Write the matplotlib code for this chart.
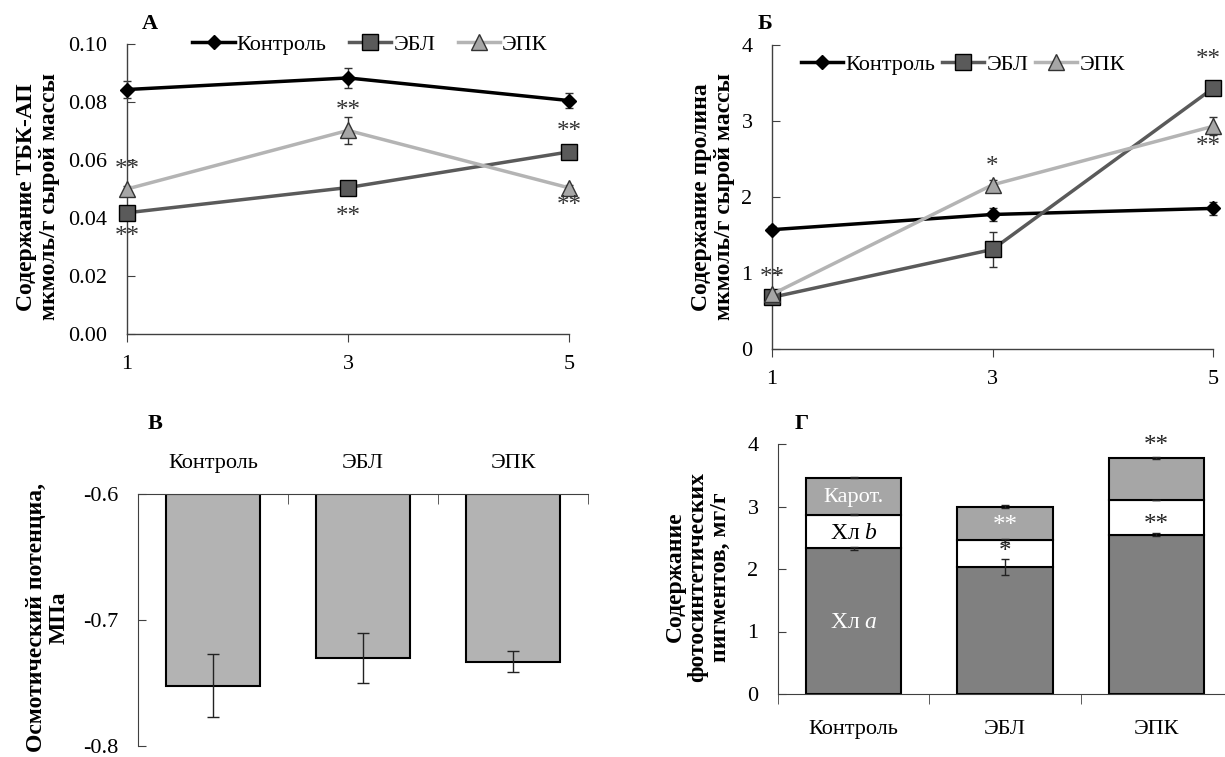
import matplotlib
matplotlib.use("Agg")
import matplotlib.pyplot as plt
import numpy as np

plt.rcParams['font.family'] = ['Liberation Serif', 'DejaVu Serif']
plt.rcParams['mathtext.fontset'] = 'custom'
plt.rcParams['mathtext.it'] = 'Liberation Serif:italic'
plt.rcParams['mathtext.rm'] = 'Liberation Serif'

# ---------------- data ----------------
days = [1, 3, 5]
series = ['Контроль', 'ЭБЛ', 'ЭПК']

tbk_control = [0.0843, 0.0883, 0.0805]
tbk_control_err = [0.003, 0.0035, 0.0025]
tbk_ebl = [0.0418, 0.0505, 0.0628]
tbk_ebl_err = [0.001, 0.001, 0.001]
tbk_epk = [0.0500, 0.0702, 0.0504]
tbk_epk_err = [0.001, 0.0047, 0.001]
tbk_ticks = [0.00, 0.02, 0.04, 0.06, 0.08, 0.10]

pro_control = [1.57, 1.77, 1.85]
pro_control_err = [0.05, 0.08, 0.09]
pro_ebl = [0.68, 1.31, 3.43]
pro_ebl_err = [0.03, 0.23, 0.03]
pro_epk = [0.72, 2.16, 2.93]
pro_epk_err = [0.03, 0.06, 0.12]
pro_ticks = [0, 1, 2, 3, 4]

groups = ['Контроль', 'ЭБЛ', 'ЭПК']
osm = [-0.752, -0.730, -0.733]
osm_err = [0.025, 0.020, 0.008]
osm_ticks = [-0.8, -0.7, -0.6]
osm_base = -0.6

chl_a = [2.33, 2.03, 2.55]
chl_a_err = [0.03, 0.13, 0.02]
chl_b = [0.54, 0.43, 0.55]
chl_b_err = [0.01, 0.02, 0.0]
carot = [0.59, 0.54, 0.68]
carot_err = [0.01, 0.03, 0.015]
pig_ticks = [0, 1, 2, 3, 4]

FS = 16
FL = 17
FST = 18
W, H = 1225, 757
fig = plt.figure(figsize=(W / 100, H / 100), dpi=100)


def rect(l, r, t, b):
    return [l / W, 1 - b / H, (r - l) / W, (b - t) / H]


def style_line_axes(ax):
    for s in ['top', 'right']:
        ax.spines[s].set_visible(False)
    for s in ['left', 'bottom']:
        ax.spines[s].set_color('#404040')
        ax.spines[s].set_linewidth(1.0)
    ax.tick_params(axis='y', direction='in', length=6, pad=14, labelsize=FS, color='#404040')
    ax.tick_params(axis='x', direction='out', length=6, pad=9, labelsize=FS, color='#404040')


line_styles = {
    'Контроль': dict(color='black', marker='D', markersize=7, markerfacecolor='black',
                     markeredgecolor='black', lw=2.5),
    'ЭБЛ': dict(color='#5a5a5a', marker='s', markersize=11, markerfacecolor='#5a5a5a',
                markeredgecolor='black', markeredgewidth=1, lw=2.5),
    'ЭПК': dict(color='#b4b4b4', marker='^', markersize=11, markerfacecolor='#a6a6a6',
                markeredgecolor='#333333', markeredgewidth=1, lw=2.5),
}


def draw_lines(ax, data):
    handles = []
    for name, vals, errs in data:
        ax.errorbar(days, vals, yerr=errs, fmt='none', ecolor='#333333', elinewidth=1,
                    capsize=3, clip_on=False, zorder=2)
        h, = ax.plot(days, vals, clip_on=False, zorder=3, label=name, **line_styles[name])
        handles.append(h)
    return handles


star_kw = dict(ha='center', va='center', fontsize=FST, color='#333333')

# ---------------- Panel A ----------------
axA = fig.add_axes(rect(127, 569, 44, 334))
hA = draw_lines(axA, [('Контроль', tbk_control, tbk_control_err),
                      ('ЭБЛ', tbk_ebl, tbk_ebl_err),
                      ('ЭПК', tbk_epk, tbk_epk_err)])
axA.set_xlim(1, 5)
axA.set_ylim(0, 0.10)
axA.set_xticks(days)
axA.set_yticks(tbk_ticks)
axA.set_yticklabels([f'{t:.2f}' for t in tbk_ticks])
style_line_axes(axA)
axA.text(1, 0.0565, '**', **star_kw)
axA.text(1, 0.0335, '**', **star_kw)
axA.text(3, 0.0770, '**', **star_kw)
axA.text(3, 0.0405, '**', **star_kw)
axA.text(5, 0.0695, '**', **star_kw)
axA.text(5, 0.0440, '**', **star_kw)
fig.legend(hA, series, loc='center', bbox_to_anchor=(370 / W, 1 - 45 / H), ncol=3,
           frameon=False, fontsize=FS, handlelength=1.9, handletextpad=0.1,
           columnspacing=1.0, borderaxespad=0)
fig.text(150 / W, 1 - 24 / H, 'А', fontsize=FS, fontweight='bold', ha='center', va='center')
fig.text(38 / W, 1 - 197 / H, 'Содержание ТБК-АП\nмкмоль/г сырой массы', rotation=90,
         fontsize=FL, fontweight='bold', ha='center', va='center', linespacing=1.1)

# ---------------- Panel B ----------------
axB = fig.add_axes(rect(772, 1213, 45, 349))
hB = draw_lines(axB, [('Контроль', pro_control, pro_control_err),
                      ('ЭБЛ', pro_ebl, pro_ebl_err),
                      ('ЭПК', pro_epk, pro_epk_err)])
axB.set_xlim(1, 5)
axB.set_ylim(0, 4)
axB.set_xticks(days)
axB.set_yticks(pro_ticks)
style_line_axes(axB)
axB.text(1, 0.93, '**', **star_kw)
axB.text(3, 2.40, '*', **star_kw)
axB.text(4.96, 3.80, '**', **star_kw)
axB.text(4.96, 2.66, '**', **star_kw)
fig.legend(hB, series, loc='center', bbox_to_anchor=(963 / W, 1 - 65 / H), ncol=3,
           frameon=False, fontsize=FS, handlelength=1.9, handletextpad=0.1,
           columnspacing=0.3, borderaxespad=0)
fig.text(765 / W, 1 - 24 / H, 'Б', fontsize=FS, fontweight='bold', ha='center', va='center')
fig.text(713 / W, 1 - 197 / H, 'Содержание пролина\nмкмоль/г сырой массы', rotation=90,
         fontsize=FL, fontweight='bold', ha='center', va='center', linespacing=1.1)

# ---------------- Panel C ----------------
axC = fig.add_axes(rect(138, 588, 494, 746))
xg = np.arange(len(groups))
axC.bar(xg, np.array(osm) - osm_base, bottom=osm_base, width=0.63, color='#b3b3b3',
        edgecolor='black', linewidth=1.5, zorder=2)
axC.errorbar(xg, osm, yerr=osm_err, fmt='none', ecolor='#222222', elinewidth=1,
             capsize=4, zorder=3)
axC.set_xlim(-0.5, 2.5)
axC.set_ylim(-0.8, -0.6)
axC.set_yticks(osm_ticks)
axC.set_yticklabels(['-0.8', '-0.7', '-0.6'])
axC.xaxis.tick_top()
axC.set_xticks(xg)
axC.set_xticklabels(groups)
axC.set_xticks([0.5, 1.5, 2.5], minor=True)
axC.tick_params(axis='x', which='major', length=0, pad=15, labelsize=FS)
axC.tick_params(axis='x', which='minor', direction='in', length=7, color='#404040')
axC.tick_params(axis='y', direction='in', length=6, pad=14, labelsize=FS, color='#404040')
for s in ['bottom', 'right']:
    axC.spines[s].set_visible(False)
for s in ['top', 'left']:
    axC.spines[s].set_color('#404040')
fig.text(155 / W, 1 - 424 / H, 'В', fontsize=FS, fontweight='bold', ha='center', va='center')
fig.text(48 / W, 1 - 618 / H, 'Осмотический потенциа,\nМПа', rotation=90,
         fontsize=FL, fontweight='bold', ha='center', va='center', linespacing=1.1)

# ---------------- Panel D ----------------
axD = fig.add_axes(rect(778, 1232, 444, 694))
bw = 0.63
axD.bar(xg, chl_a, width=bw, color='#808080', edgecolor='black', linewidth=1.5, zorder=2)
axD.bar(xg, chl_b, bottom=chl_a, width=bw, color='white', edgecolor='black', linewidth=1.5, zorder=2)
top_b = np.array(chl_a) + np.array(chl_b)
axD.bar(xg, carot, bottom=top_b, width=bw, color='#a6a6a6', edgecolor='black', linewidth=1.5, zorder=2)
top_c = top_b + np.array(carot)
axD.errorbar(xg, chl_a, yerr=chl_a_err, fmt='none', ecolor='#222222', elinewidth=1, capsize=3, zorder=3)
axD.errorbar(xg, top_b, yerr=chl_b_err, fmt='none', ecolor='#222222', elinewidth=1, capsize=3, zorder=3)
axD.errorbar(xg, top_c, yerr=carot_err, fmt='none', ecolor='#222222', elinewidth=1, capsize=3, zorder=3)
axD.set_xlim(-0.5, 2.5)
axD.set_ylim(0, 4)
axD.set_yticks(pig_ticks)
axD.set_xticks(xg)
axD.set_xticklabels(groups)
axD.set_xticks([-0.5, 0.5, 1.5, 2.5], minor=True)
axD.tick_params(axis='x', which='major', length=0, pad=19, labelsize=FS)
axD.tick_params(axis='x', which='minor', direction='out', length=7, color='#404040')
axD.tick_params(axis='y', direction='in', length=6, pad=14, labelsize=FS, color='#404040')
for s in ['top', 'right']:
    axD.spines[s].set_visible(False)
for s in ['bottom', 'left']:
    axD.spines[s].set_color('#404040')
axD.text(0, 3.15, 'Карот.', ha='center', va='center', fontsize=FS, color='white', zorder=4)
axD.text(0, 2.57, 'Хл $\\mathit{b}$', ha='center', va='center', fontsize=FL, color='black', zorder=4)
axD.text(0, 1.15, 'Хл $\\mathit{a}$', ha='center', va='center', fontsize=FL, color='white', zorder=4)
axD.text(1, 2.68, '**', ha='center', va='center', fontsize=FST, color='white', zorder=4)
axD.text(1, 2.28, '*', ha='center', va='center', fontsize=FST, color='#222222', zorder=4)
axD.text(2, 3.96, '**', ha='center', va='center', fontsize=FST, color='#222222', zorder=4)
axD.text(2, 2.70, '**', ha='center', va='center', fontsize=FST, color='#222222', zorder=4)
fig.text(802 / W, 1 - 424 / H, 'Г', fontsize=FS, fontweight='bold', ha='center', va='center')
fig.text(698 / W, 1 - 577 / H, 'Содержание\nфотосинтетических\nпигментов, мг/г', rotation=90,
         fontsize=FL, fontweight='bold', ha='center', va='center', linespacing=1.1)

fig.savefig('out.png', dpi=100)
